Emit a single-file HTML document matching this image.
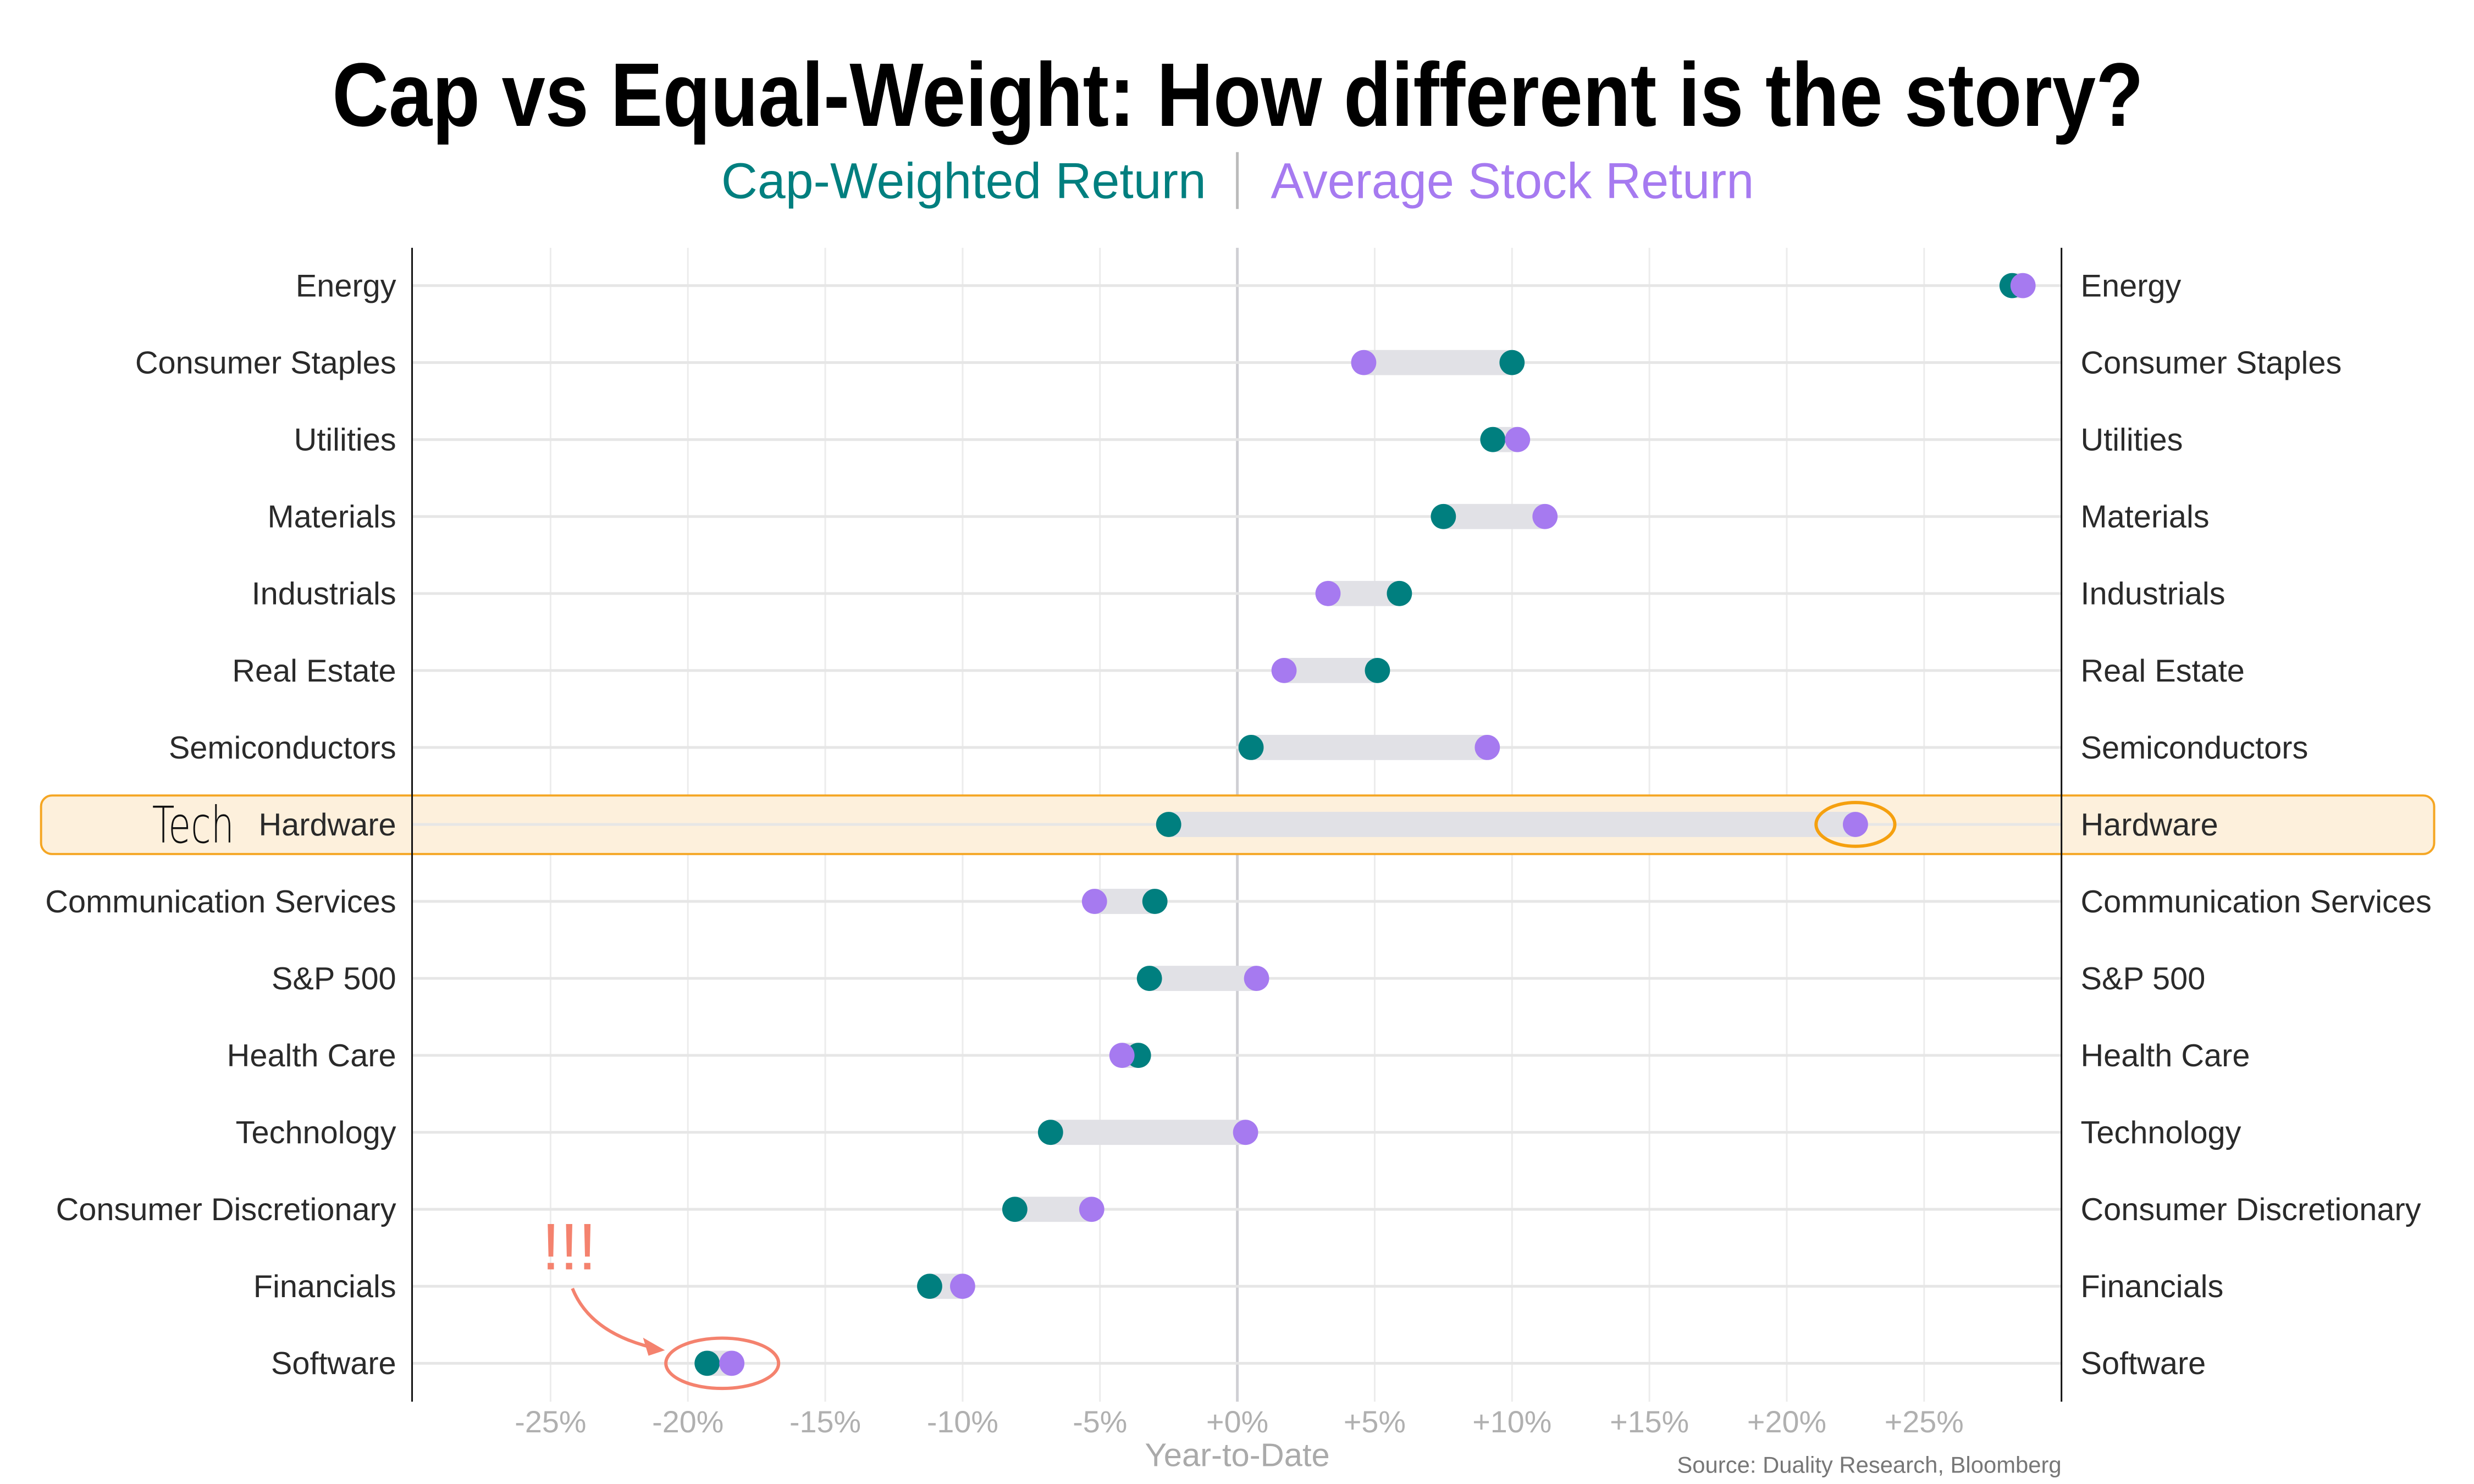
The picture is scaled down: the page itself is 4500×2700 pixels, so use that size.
<!DOCTYPE html>
<html><head><meta charset="utf-8"><style>
html,body{margin:0;padding:0;background:#fff;}
svg{display:block;font-family:"Liberation Sans",sans-serif;}
</style></head><body>
<svg id="chart" width="4500" height="2700" viewBox="0 0 4500 2700" xmlns="http://www.w3.org/2000/svg">
<rect width="4500" height="2700" fill="#fff"/>
<g transform="scale(0.9954)">
<text x="2262" y="230" text-anchor="middle" font-size="165" font-weight="bold" fill="#000" textLength="3310" lengthAdjust="spacingAndGlyphs">Cap vs Equal-Weight: How different is the story?</text>
<text x="2204" y="362" text-anchor="end" font-size="92" fill="#007f7f" textLength="886" lengthAdjust="spacingAndGlyphs">Cap-Weighted Return</text>
<line x1="2261" y1="278" x2="2261" y2="382" stroke="#bbb" stroke-width="5"/>
<text x="2322" y="362" font-size="92" fill="#a67af0" textLength="883" lengthAdjust="spacingAndGlyphs">Average Stock Return</text>
<g id="grid"></g>
<rect x="75" y="1454" width="4373" height="107" rx="20" fill="#fdf0dc" stroke="#f5a623" stroke-width="4"/>
<g id="rows"></g>
<g id="marks"></g>
<g id="axes"></g>
<text x="278" y="1540" font-size="92" fill="#111" font-family="'DejaVu Sans',sans-serif" font-weight="200" textLength="150" lengthAdjust="spacingAndGlyphs">Tech</text>
<text x="1040" y="2320" text-anchor="middle" font-size="120" fill="#f4826e">!!!</text>
<path d="M1046 2355 Q1080 2440 1205 2466" fill="none" stroke="#f4826e" stroke-width="6"/>
<path d="M1215 2468 L1175 2445 L1185 2478 Z" fill="#f4826e"/>
<text x="2261" y="2680" text-anchor="middle" font-size="60" fill="#aaa">Year-to-Date</text>
<text x="3767" y="2692" text-anchor="end" font-size="42" fill="#777">Source: Duality Research, Bloomberg</text>
</g>
</svg>
<script>
const categories = ["Energy","Consumer Staples","Utilities","Materials","Industrials","Real Estate","Semiconductors","Hardware","Communication Services","S&P 500","Health Care","Technology","Consumer Discretionary","Financials","Software"];
const capWeighted = [28.2,10.0,9.3,7.5,5.9,5.1,0.5,-2.5,-3.0,-3.2,-3.6,-6.8,-8.1,-11.2,-19.3];
const averageStock = [28.6,4.6,10.2,11.2,3.3,1.7,9.1,22.5,-5.2,0.7,-4.2,0.3,-5.3,-10.0,-18.4];
const tickValues = [-25,-20,-15,-10,-5,0,5,10,15,20,25];
const tickLabels = ["-25%","-20%","-15%","-10%","-5%","+0%","+5%","+10%","+15%","+20%","+25%"];

const NS="http://www.w3.org/2000/svg";
const X0=753, X1=3767, Y0=453, Y1=2562;
const xScale=v=>2261+v*50.2;
const yScale=i=>522+i*140.7;
function mk(parent,tag,attrs){const e=document.createElementNS(NS,tag);for(const k in attrs)e.setAttribute(k,attrs[k]);document.getElementById(parent).appendChild(e);return e;}

tickValues.forEach((v,i)=>{
  const l=mk('grid','line',{x1:xScale(v),x2:xScale(v),y1:Y0,y2:Y1,stroke:v===0?'#cfcfd4':'#ececec','stroke-width':v===0?5:3});
  
  
  const t=mk('axes','text',{x:xScale(v),y:2618,'text-anchor':'middle','font-size':56,fill:'#b0b0b0'});
  t.textContent=tickLabels[i];
  
  
});
categories.forEach((c,i)=>{
  const y=yScale(i);
  const g=mk('rows','line',{x1:X0,x2:X1,y1:y,y2:y,stroke:'#e6e6e6','stroke-width':5});
  
  
  const tl=mk('axes','text',{x:724,y:y+20,'text-anchor':'end','font-size':58,fill:'#2a2a2a'});
  tl.textContent=c;
  
  
  const tr=mk('axes','text',{x:3802,y:y+20,'font-size':58,fill:'#2a2a2a'});
  tr.textContent=c;
  
  
  const a=xScale(capWeighted[i]), b=xScale(averageStock[i]);
  const bar=mk('marks','rect',{x:Math.min(a,b),y:y-23,width:Math.abs(b-a),height:46,fill:'#e1e1e6'});
  
  
  const d1=mk('marks','circle',{cx:a,cy:y,r:23,fill:'#007f7f'});
  
  
  const d2=mk('marks','circle',{cx:b,cy:y,r:23,fill:'#a67af0'});
  
  
});
const hw=categories.indexOf("Hardware"), sw=categories.indexOf("Software");
const e1=mk('marks','ellipse',{cx:xScale(averageStock[hw]),cy:yScale(hw),rx:72,ry:40,fill:'none',stroke:'#f5a00f','stroke-width':6});


const e2=mk('marks','ellipse',{cx:(xScale(capWeighted[sw])+xScale(averageStock[sw]))/2+5,cy:yScale(sw),rx:103,ry:46,fill:'none',stroke:'#f4826e','stroke-width':6});


[X0,X1].forEach(x=>{
  const l=mk('axes','line',{x1:x,x2:x,y1:Y0,y2:Y1,stroke:'#111','stroke-width':3});
  
  
});
</script>
</body></html>
